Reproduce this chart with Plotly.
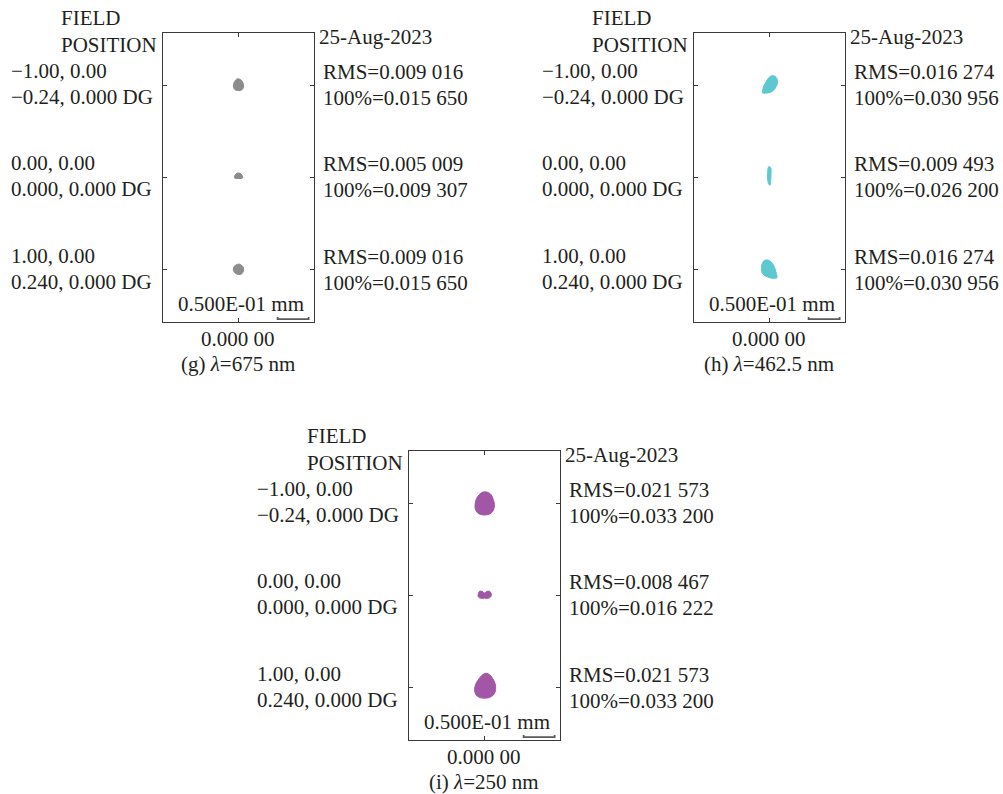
import plotly.graph_objects as go

W, H = 1003, 794
FONT = "Liberation Serif"
TXT = "#231f20"

# ---------------- data ----------------
PANELS = ["g", "h", "i"]
WAVELENGTHS = ["675", "462.5", "250"]
SPOT_COLORS = ["#8c8c8c", "#5ec8d0", "#a257a6"]
DATE = "25-Aug-2023"
CENTER_LABEL = "0.000 00"
SCALE_LABEL = "0.500E-01 mm"
SCALE_UM = 50.0

FIELD_LINE1 = ["\u22121.00, 0.00", "0.00, 0.00", "1.00, 0.00"]
FIELD_LINE2 = ["\u22120.24, 0.000 DG", "0.000, 0.000 DG", "0.240, 0.000 DG"]
FIELD_Y_UM = [148.4, 0.0, -148.4]

RMS_G = ["0.009 016", "0.005 009", "0.009 016"]
RMS_H = ["0.016 274", "0.009 493", "0.016 274"]
RMS_I = ["0.021 573", "0.008 467", "0.021 573"]
P100_G = ["0.015 650", "0.009 307", "0.015 650"]
P100_H = ["0.030 956", "0.026 200", "0.030 956"]
P100_I = ["0.033 200", "0.016 222", "0.033 200"]

# spot outlines (um, relative to chief ray) per field: top, middle, bottom
SPOT_G_X = [[-2, 3, 6, 8, 8, 5, 0, -5, -8, -8, -6],
            [-6.5, -4, 0, 4, 6.5, 6.5, -6.5],
            [1, 5, 8, 8, 5, 0, -5, -8, -8, -5]]
SPOT_G_Y = [[10, 9, 6, 1, -4, -8, -9, -8, -4, 1, 6],
            [1, 5, 6.5, 5, 1, -1.5, -1.5],
            [8, 6, 2, -3, -8, -9, -7, -3, 2, 6]]
SPOT_H_X = [[4, 9, 12, 13, 11, 7, 1, -6, -11, -11, -9, -5, -1],
            [-1, 2, 2.5, 2, 1, -1, -3, -3, -2.5],
            [-8, -3, 2, 6, 9, 11, 12, 7, 0, -7, -12, -13, -12]]
SPOT_H_Y = [[15, 14, 10, 4, -2, -8, -12, -13, -13, -8, -1, 6, 12],
            [17, 15, 5, -5, -13, -12, -4, 5, 13],
            [14, 14.5, 12, 7, 0, -7, -14, -15, -14, -11, -6, 1, 8]]
SPOT_I_X = [[0, 6, 11, 14, 16, 15, 11, 4, -4, -11, -15, -15, -13, -8, -4],
            [-8, -3, 0, 3, 8, 11, 10, 5, 0, -5, -10, -10],
            [2, 8, 13, 17, 18, 15, 8, 0, -8, -14, -16, -14, -9, -4]]
SPOT_I_Y = [[18, 17, 13, 6, -2, -10, -16, -19, -19, -16, -9, -1, 7, 14, 17],
            [6, 5.5, 3, 5.5, 6, 2, -3, -5.5, -5, -5.5, -3, 2],
            [22, 20, 14, 6, -4, -12, -17, -18, -17, -12, -4, 5, 13, 19]]

SPOTS_X = [SPOT_G_X, SPOT_H_X, SPOT_I_X]
SPOTS_Y = [SPOT_G_Y, SPOT_H_Y, SPOT_I_Y]
RMS = [RMS_G, RMS_H, RMS_I]
P100 = [P100_G, P100_H, P100_I]

# ---------------- layout geometry (pixels) ----------------
BOXES = [(163, 33), (694, 33), (409, 451)]   # left, top of each plot box
BW, BH = 151, 289
X_RANGE = [-121.8, 121.8]
Y_RANGE = [-233.9, 232.3]


def px(x):
    return x / W


def py(y):
    return 1 - y / H


fig = go.Figure()
annotations = []


def ann(x, y, text, xanchor="left", size=21):
    annotations.append(dict(x=px(x), y=py(y), xref="paper", yref="paper",
                            text=text, showarrow=False, xanchor=xanchor,
                            yanchor="middle", align="left", borderpad=0,
                            font=dict(family=FONT, size=size, color=TXT)))


axis_common = dict(showgrid=False, zeroline=False, showline=True,
                   linecolor="#3a3a3a", linewidth=1.2, mirror="ticks",
                   ticks="inside", ticklen=4, tickcolor="#3a3a3a",
                   tickwidth=1.2, showticklabels=False, fixedrange=True)

for k, p in enumerate(PANELS):
    L, T = BOXES[k]
    sfx = "" if k == 0 else str(k + 1)
    xa, ya = "x" + sfx, "y" + sfx
    fig.update_layout(**{
        "xaxis" + sfx: dict(domain=[px(L), px(L + BW)], range=X_RANGE,
                            anchor=ya, tickvals=[0], **axis_common),
        "yaxis" + sfx: dict(domain=[py(T + BH), py(T)], range=Y_RANGE,
                            anchor=xa, tickvals=FIELD_Y_UM, **axis_common),
    })
    for f in range(3):
        xs = SPOTS_X[k][f] + [SPOTS_X[k][f][0]]
        ys = [FIELD_Y_UM[f] + v for v in SPOTS_Y[k][f]]
        ys = ys + [ys[0]]
        fig.add_trace(go.Scatter(x=xs, y=ys, xaxis=xa, yaxis=ya,
                                 mode="lines", fill="toself",
                                 line=dict(color=SPOT_COLORS[k], width=1,
                                           shape="spline"),
                                 fillcolor=SPOT_COLORS[k],
                                 hoverinfo="skip", showlegend=False))
    # scale bar (50 um)
    x0 = X_RANGE[1] - 8.7 - SCALE_UM
    x1 = X_RANGE[1] - 8.7
    yb = Y_RANGE[0] + 4.5
    fig.add_trace(go.Scatter(x=[x0, x0, x1, x1], y=[yb + 3.5, yb, yb, yb + 3.5],
                             xaxis=xa, yaxis=ya, mode="lines",
                             line=dict(color="#5a5a5a", width=1.8),
                             hoverinfo="skip", showlegend=False))

    # texts
    ann(L - 103, T - 15, "FIELD")
    ann(L - 103, T + 12, "POSITION")
    ann(L + 155, T + 4, DATE)
    row_y = [T + 38, T + 130, T + 223]
    for f in range(3):
        ann(L - 153, row_y[f], FIELD_LINE1[f])
        ann(L - 153, row_y[f] + 26, FIELD_LINE2[f])
        ann(L + 159, row_y[f] + 1, "RMS=" + RMS[k][f])
        ann(L + 159, row_y[f] + 27, "100%=" + P100[k][f])
    ann(L + 78, T + 271, SCALE_LABEL, xanchor="center")
    ann(L + 75, T + 306, CENTER_LABEL, xanchor="center")
    ann(L + 75, T + 331, "(" + p + ") <i>\u03bb</i>=" + WAVELENGTHS[k] + " nm",
        xanchor="center")

fig.update_layout(width=W, height=H, margin=dict(l=0, r=0, t=0, b=0),
                  paper_bgcolor="white", plot_bgcolor="white",
                  showlegend=False, annotations=annotations)

fig.write_html("out.html", config={"displayModeBar": False},
               post_script="document.body.style.margin='0';")
